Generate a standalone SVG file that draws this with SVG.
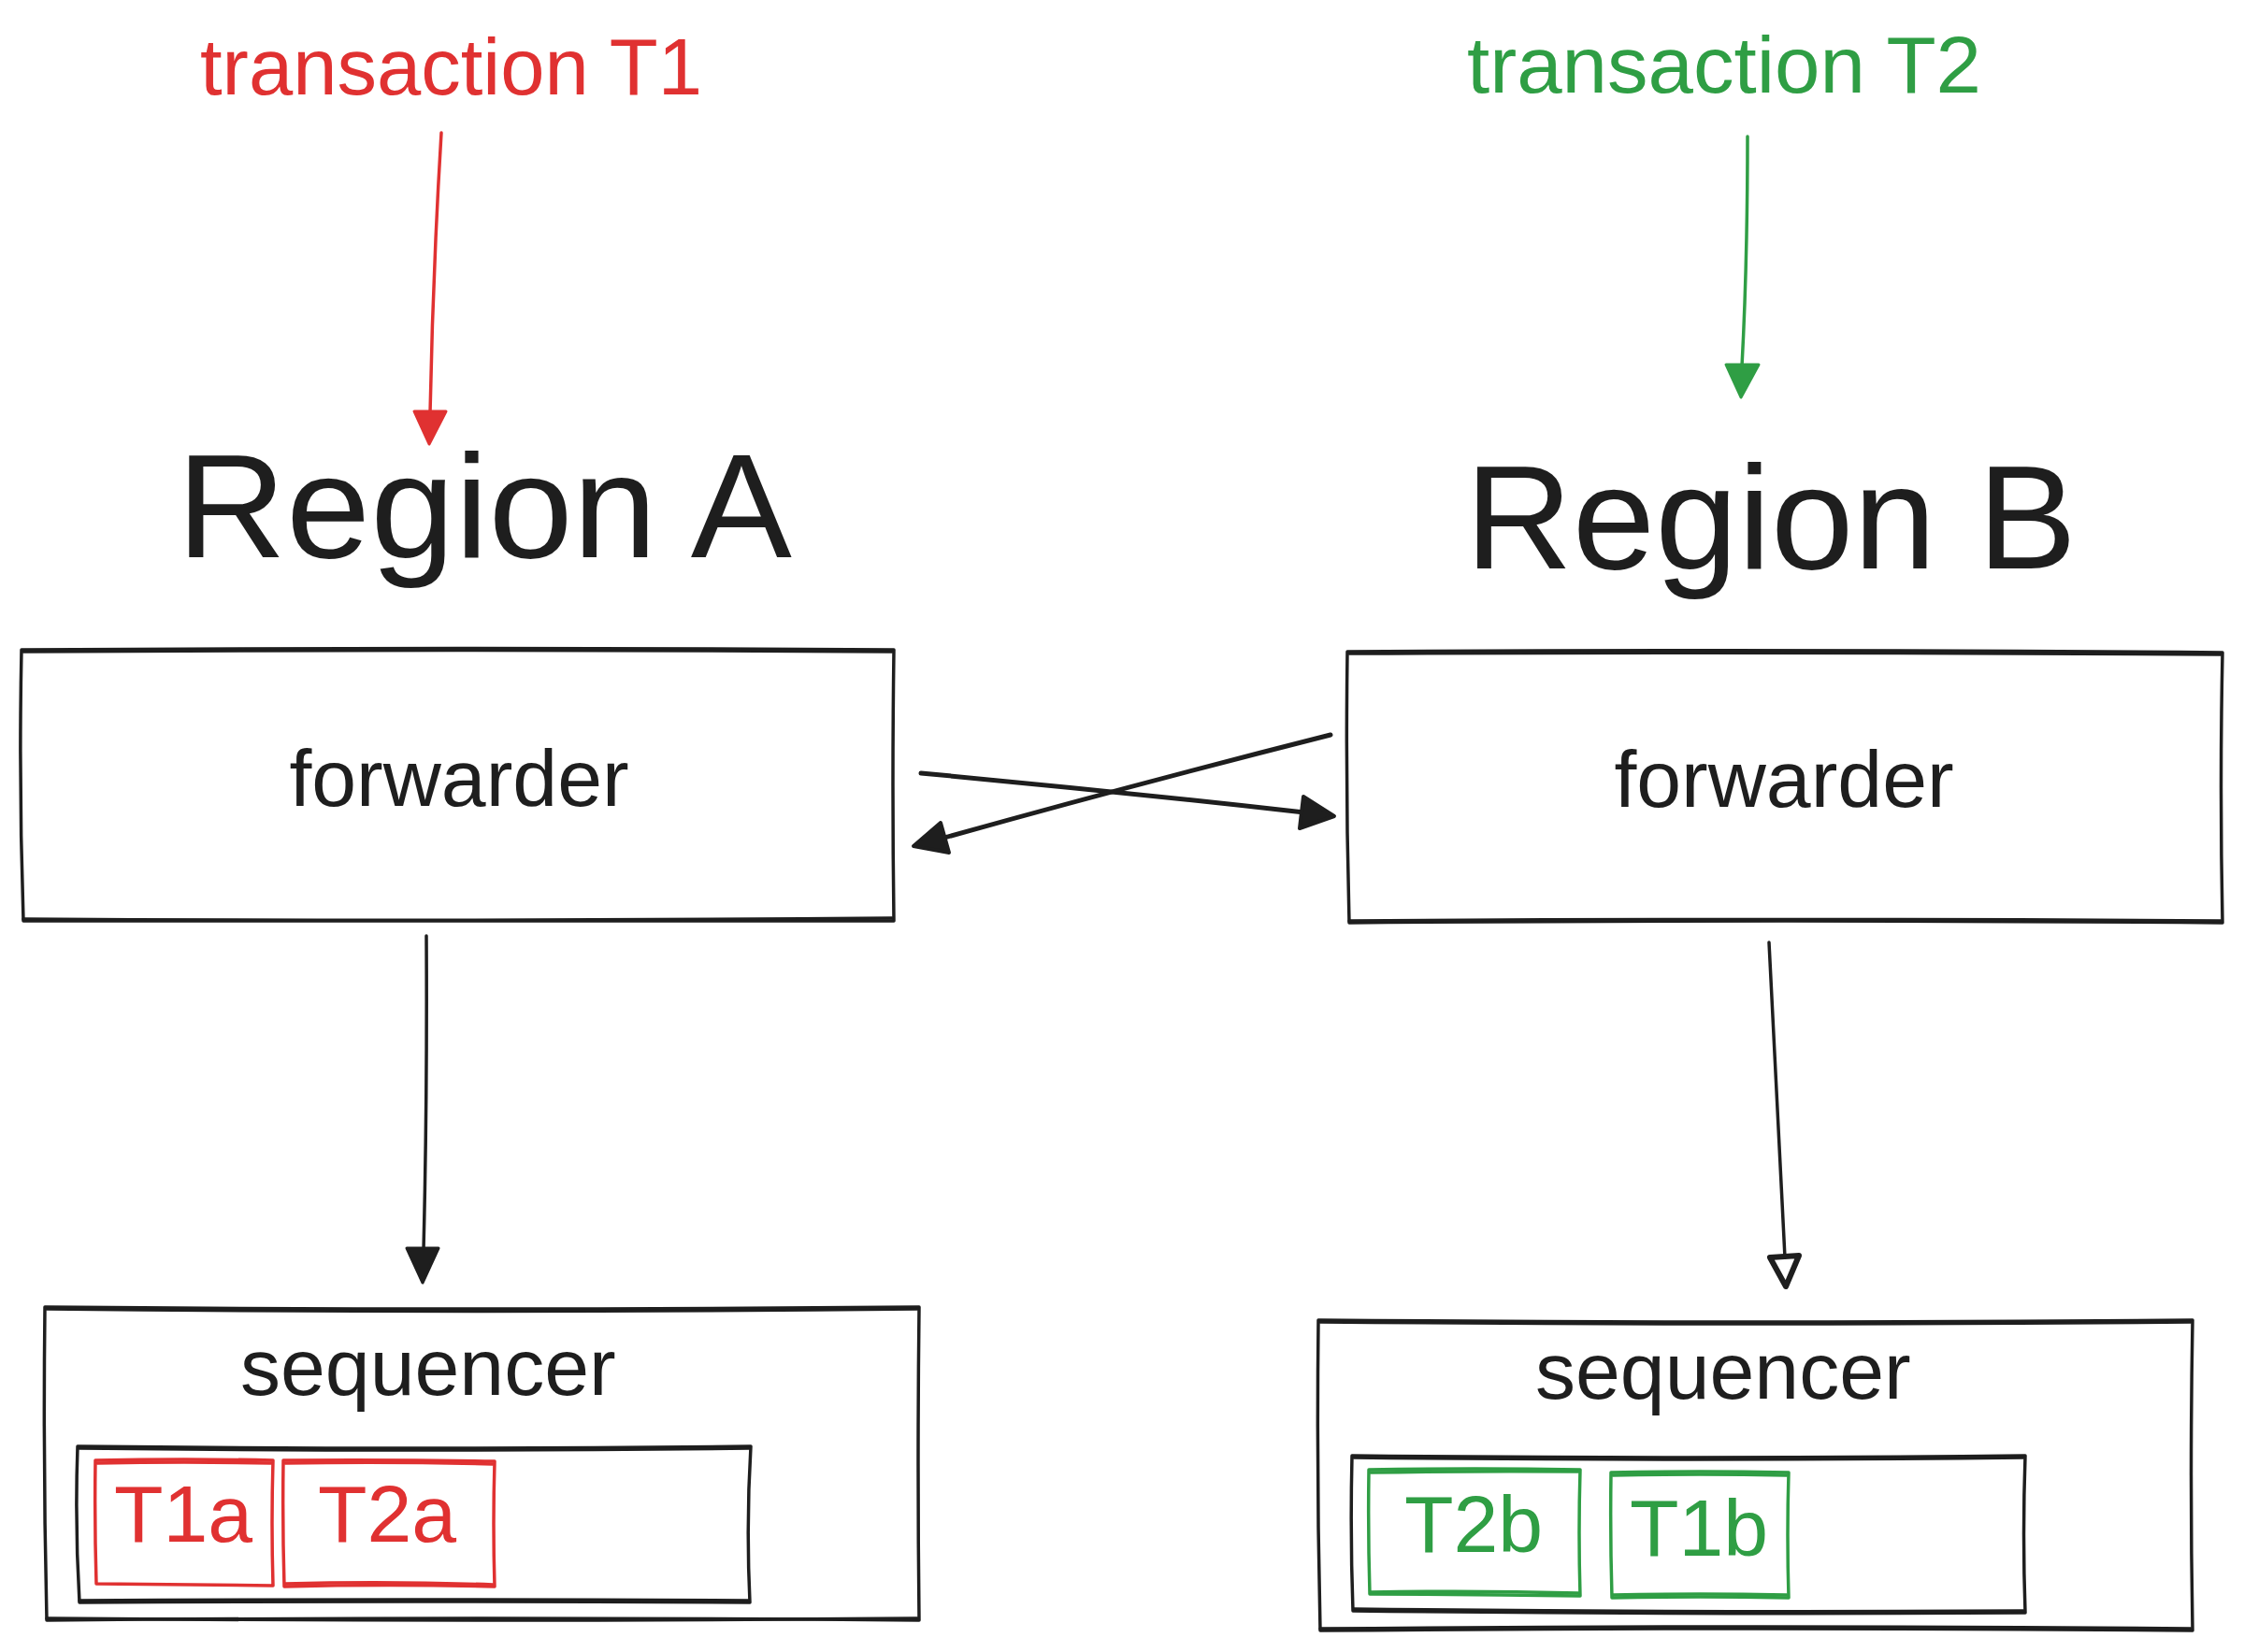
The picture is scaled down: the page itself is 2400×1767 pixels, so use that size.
<svg xmlns="http://www.w3.org/2000/svg" width="2400" height="1767" viewBox="0 0 2400 1767">
<defs>
<style>
text{font-family:"Liberation Sans",Arial,Helvetica,sans-serif;}
.lbl{fill:#1e1e1e;font-size:86px;}
.big{fill:#1e1e1e;font-size:157px;}
.red{fill:#e03131;}
.green{fill:#2f9e44;}
.box{fill:none;stroke:#1e1e1e;stroke-width:3.5;stroke-linecap:round;stroke-linejoin:round;}
.box2{fill:none;stroke:#1e1e1e;stroke-width:3.5;stroke-linecap:round;}
.rbox{fill:none;stroke:#e03131;stroke-width:3.5;stroke-linecap:round;stroke-linejoin:round;}
.gbox{fill:none;stroke:#2f9e44;stroke-width:3.5;stroke-linecap:round;stroke-linejoin:round;}
.ln{fill:none;stroke:#1e1e1e;stroke-width:3.5;stroke-linecap:round;}
.lnb{fill:none;stroke:#1e1e1e;stroke-width:5;stroke-linecap:round;}
.rln{fill:none;stroke:#e03131;stroke-width:3.5;stroke-linecap:round;}
.gln{fill:none;stroke:#2f9e44;stroke-width:3.5;stroke-linecap:round;}
</style>
</defs>
<rect width="2400" height="1767" fill="#ffffff"/>

<g id="title-t1">
<text class="red" x="214" y="101" font-size="85">transaction T1</text>
</g>
<g id="title-t2">
<text class="green" x="1569" y="99" font-size="85" textLength="550" lengthAdjust="spacingAndGlyphs">transaction T2</text>
</g>
<g id="region-a">
<text class="big" x="189" y="596" font-size="158" textLength="658" lengthAdjust="spacingAndGlyphs">Region A</text>
</g>
<g id="region-b">
<text class="big" x="1567" y="608" font-size="156" textLength="654" lengthAdjust="spacingAndGlyphs">Region B</text>
</g>

<g id="forwarder-a">
<path class="box" d="M23,695 Q490,692 956,695 Q954,840 956,985 Q490,983 25,985 Q20,840 23,695 Z"/>
<path class="box2" d="M25,697 Q490,694 954,697 M25,983 Q490,986 954,982"/>
<text class="lbl" x="491" y="862" text-anchor="middle">forwarder</text>
</g>

<g id="forwarder-b">
<path class="box" d="M1441,697 Q1909,694 2377,698 Q2374,842 2377,987 Q1909,983 1443,987 Q1439,842 1441,697 Z"/>
<path class="box2" d="M1443,699 Q1909,697 2375,700 M1443,985 Q1909,982 2375,985"/>
<text class="lbl" x="1908" y="863" text-anchor="middle">forwarder</text>
</g>

<g id="sequencer-a">
<path class="box" d="M48,1398 Q515,1402 983,1398 Q981,1566 983,1733 Q515,1729 50,1733 Q46,1566 48,1398 Z"/>
<path class="box2" d="M50,1400 Q515,1405 981,1400 M50,1731 Q515,1735 981,1731"/>
<text class="lbl" x="257" y="1492">sequencer</text>
</g>
<g id="queue-a">
<path class="box" d="M83,1547 Q443,1551 803,1547 Q798,1630 802,1714 Q443,1712 85,1714 Q80,1630 83,1547 Z"/>
<path class="box2" d="M85,1549 Q443,1553 801,1549 M85,1712 Q443,1710 801,1712"/>
</g>
<g id="t1a">
<path class="rbox" d="M102,1562 Q197,1560 292,1562 Q290,1629 292,1696 Q197,1695 103,1694 Q101,1629 102,1562 Z"/>
<path class="rbox" d="M104,1565 Q197,1563 290,1565"/>
<text class="red" x="122" y="1649" font-size="86">T1a</text>
</g>
<g id="t2a">
<path class="rbox" d="M303,1562 Q416,1561 529,1563 Q527,1630 529,1697 Q416,1694 304,1697 Q302,1630 303,1562 Z"/>
<path class="rbox" d="M305,1694 Q416,1691 527,1695 M305,1565 Q416,1563 527,1566"/>
<text class="red" x="340" y="1649" font-size="86">T2a</text>
</g>

<g id="sequencer-b">
<path class="box" d="M1410,1412 Q1877,1416 2345,1412 Q2342,1578 2345,1744 Q1877,1740 1412,1744 Q1408,1578 1410,1412 Z"/>
<path class="box2" d="M1412,1414 Q1877,1418 2343,1414 M1412,1742 Q1877,1738 2343,1742"/>
<text class="lbl" x="1642" y="1496">sequencer</text>
</g>
<g id="queue-b">
<path class="box" d="M1446,1557 Q1806,1561 2166,1557 Q2163,1641 2166,1725 Q1806,1727 1447,1723 Q1444,1641 1446,1557 Z"/>
<path class="box2" d="M1448,1559 Q1806,1563 2164,1559 M1448,1721 Q1806,1725 2164,1723"/>
</g>
<g id="t2b">
<path class="gbox" d="M1464,1572 Q1577,1570 1690,1572 Q1688,1640 1690,1707 Q1577,1705 1465,1705 Q1463,1640 1464,1572 Z"/>
<path class="gbox" d="M1466,1575 Q1577,1573 1688,1574 M1466,1703 Q1577,1701 1688,1704"/>
<text class="green" x="1502" y="1660" font-size="86">T2b</text>
</g>
<g id="t1b">
<path class="gbox" d="M1723,1575 Q1818,1573 1913,1575 Q1911,1642 1913,1709 Q1818,1707 1724,1709 Q1722,1642 1723,1575 Z"/>
<path class="gbox" d="M1725,1706 Q1818,1704 1911,1706 M1725,1578 Q1818,1576 1911,1578"/>
<text class="green" x="1743" y="1664" font-size="86">T1b</text>
</g>

<g id="connectors">
<path class="rln" d="M472,142 Q463,290 460,442"/>
<polygon points="443,440 477,440 459,475" fill="#e03131" stroke="#e03131" stroke-width="3" stroke-linejoin="round"/>

<path class="gln" d="M1869,146 Q1869,280 1863,392"/>
<polygon points="1846,390 1881,390 1862,425" fill="#2f9e44" stroke="#2f9e44" stroke-width="3" stroke-linejoin="round"/>

<path class="lnb" d="M985,827 Q1190,846 1395,869"/>
<polygon points="1394,852 1427,873 1390,886" fill="#1e1e1e" stroke="#1e1e1e" stroke-width="4" stroke-linejoin="round"/>

<path class="lnb" d="M1423,786 Q1210,840 1010,896"/>
<polygon points="1006,880 977,905 1015,912" fill="#1e1e1e" stroke="#1e1e1e" stroke-width="4" stroke-linejoin="round"/>

<path class="ln" d="M456,1001 Q457,1180 453,1337"/>
<polygon points="435,1335 469,1335 452,1372" fill="#1e1e1e" stroke="#1e1e1e" stroke-width="3" stroke-linejoin="round"/>

<path class="ln" d="M1892,1008 L1909,1345"/>
<polygon points="1893,1345 1924,1343 1910,1376" fill="none" stroke="#1e1e1e" stroke-width="6" stroke-linejoin="round"/>
</g>
</svg>
